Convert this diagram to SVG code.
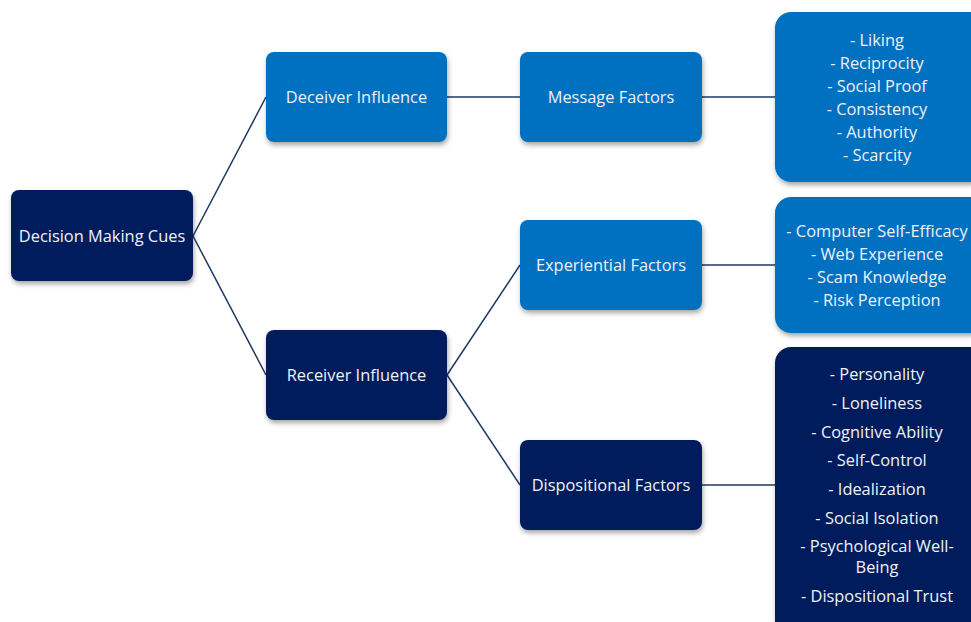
<svg xmlns="http://www.w3.org/2000/svg" width="971" height="622" viewBox="0 0 971 622">
<style>
.dark{fill:#011F5B;}
.blue{fill:#0070C0;}
.t{font-family:"Open Sans","Liberation Sans",sans-serif;font-size:16.4px;fill:#EEF2F8;text-anchor:middle;dominant-baseline:central;}
.c{stroke:#1F3864;stroke-width:1.5;fill:none;}
</style>
<defs>
<filter id="sh" x="-10%" y="-10%" width="130%" height="130%">
<feDropShadow dx="1" dy="3" stdDeviation="2.5" flood-color="#000" flood-opacity="0.35"/>
</filter>
</defs>
<rect width="971" height="622" fill="#fff"/>
<g id="connectors">
<line class="c" x1="193" y1="236" x2="266" y2="97"/>
<line class="c" x1="193" y1="236" x2="266" y2="375"/>
<line class="c" x1="447" y1="97" x2="520" y2="97"/>
<line class="c" x1="702" y1="97" x2="775" y2="97"/>
<line class="c" x1="447" y1="375" x2="520" y2="265"/>
<line class="c" x1="447" y1="375" x2="520" y2="485"/>
<line class="c" x1="702" y1="265" x2="775" y2="265"/>
<line class="c" x1="702" y1="485" x2="775" y2="485"/>
</g>
<g id="decision">
<rect class="dark" filter="url(#sh)" x="11" y="190" width="182" height="91" rx="8"/>
<text class="t" x="102" y="235">Decision Making Cues</text>
</g>
<g id="deceiver">
<rect class="blue" filter="url(#sh)" x="266" y="52" width="181" height="90" rx="8"/>
<text class="t" x="356.5" y="96">Deceiver Influence</text>
</g>
<g id="receiver">
<rect class="dark" filter="url(#sh)" x="266" y="330" width="181" height="90" rx="8"/>
<text class="t" x="356.5" y="374">Receiver Influence</text>
</g>
<g id="message">
<rect class="blue" filter="url(#sh)" x="520" y="52" width="182" height="90" rx="8"/>
<text class="t" x="611" y="96">Message Factors</text>
</g>
<g id="experiential">
<rect class="blue" filter="url(#sh)" x="520" y="220" width="182" height="90" rx="8"/>
<text class="t" x="611" y="264">Experiential Factors</text>
</g>
<g id="dispositional">
<rect class="dark" filter="url(#sh)" x="520" y="440" width="182" height="90" rx="8"/>
<text class="t" x="611" y="484">Dispositional Factors</text>
</g>
<g id="message-list">
<rect class="blue" filter="url(#sh)" x="775" y="12" width="212" height="170" rx="16"/>
<text class="t" x="877" y="39">- Liking</text>
<text class="t" x="877" y="62">- Reciprocity</text>
<text class="t" x="877" y="85">- Social Proof</text>
<text class="t" x="877" y="108">- Consistency</text>
<text class="t" x="877" y="131">- Authority</text>
<text class="t" x="877" y="154">- Scarcity</text>
</g>
<g id="experiential-list">
<rect class="blue" filter="url(#sh)" x="775" y="197" width="212" height="136" rx="16"/>
<text class="t" x="877" y="230">- Computer Self-Efficacy</text>
<text class="t" x="877" y="253">- Web Experience</text>
<text class="t" x="877" y="276">- Scam Knowledge</text>
<text class="t" x="877" y="299">- Risk Perception</text>
</g>
<g id="dispositional-list">
<rect class="dark" filter="url(#sh)" x="775" y="347" width="212" height="290" rx="16"/>
<text class="t" x="877" y="373">- Personality</text>
<text class="t" x="877" y="402">- Loneliness</text>
<text class="t" x="877" y="431">- Cognitive Ability</text>
<text class="t" x="877" y="459">- Self-Control</text>
<text class="t" x="877" y="488">- Idealization</text>
<text class="t" x="877" y="517">- Social Isolation</text>
<text class="t" x="877" y="545">- Psychological Well-</text>
<text class="t" x="877" y="566">Being</text>
<text class="t" x="877" y="595">- Dispositional Trust</text>
</g>
</svg>
